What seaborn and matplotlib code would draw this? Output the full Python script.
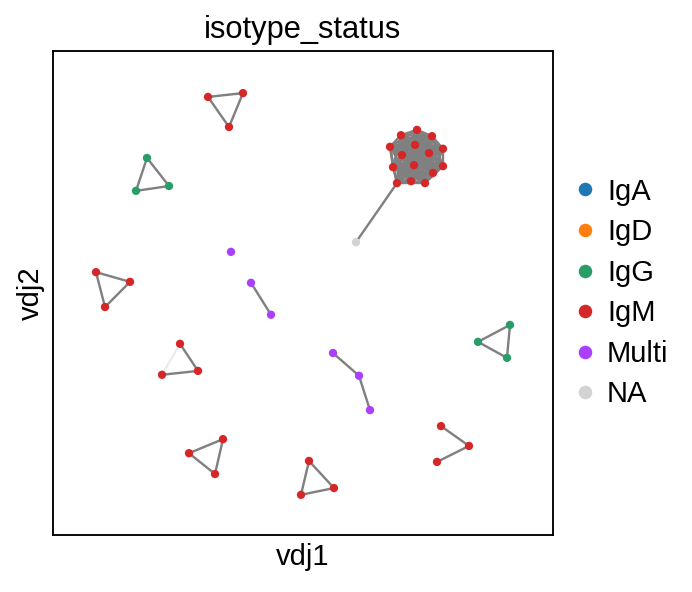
import seaborn as sns
import matplotlib.pyplot as plt
import pandas as pd
from matplotlib.collections import LineCollection

# node coordinates (vdj1, vdj2) and isotype status
vdj1 = [6.96, 7.28, 7.58, 6.74, 7.80, 7.24, 6.98, 7.52, 6.80, 7.22, 7.80, 7.60, 6.88, 7.16, 7.44,
        6.06,
        3.10, 3.80, 3.52,
        1.88, 2.32, 1.66,
        0.86, 1.54, 1.04,
        3.56,
        3.96, 4.36,
        2.54, 2.18, 2.90,
        5.60, 6.12, 6.34,
        9.14, 8.50, 9.08,
        3.40, 2.72, 3.24,
        5.12, 4.96, 5.62,
        7.76, 8.32, 7.68]
vdj2 = [8.26, 8.37, 8.24, 8.02, 7.98, 8.06, 7.85, 7.89, 7.60, 7.64, 7.62, 7.48, 7.27, 7.31, 7.27,
        6.05,
        9.05, 9.13, 8.43,
        7.79, 7.21, 7.11,
        5.43, 5.23, 4.71,
        5.85,
        5.21, 4.55,
        3.95, 3.31, 3.39,
        3.76, 3.29, 2.58,
        4.34, 3.99, 3.66,
        1.98, 1.69, 1.26,
        1.53, 0.83, 0.97,
        2.25, 1.84, 1.51]
isotype = ["IgM"] * 15 + ["NA"] + ["IgM"] * 3 + ["IgG"] * 3 + ["IgM"] * 3 + ["Multi"] * 3 + \
          ["IgM"] * 3 + ["Multi"] * 3 + ["IgG"] * 3 + ["IgM"] * 9

categories = ["IgA", "IgD", "IgG", "IgM", "Multi", "NA"]
colors = ["#1f77b4", "#ff7f0e", "#279e68", "#d62728", "#aa40fc", "#d3d3d3"]

# edges (node index pairs) with weights
cluster = list(range(15))
edges = [(a, b) for i, a in enumerate(cluster) for b in cluster[i + 1:]]
edges += [(15, 12),
          (16, 17), (17, 18), (18, 16),
          (19, 20), (20, 21), (21, 19),
          (22, 23), (23, 24), (24, 22),
          (26, 27),
          (28, 29), (29, 30), (30, 28),
          (31, 32), (32, 33),
          (34, 35), (35, 36), (36, 34),
          (37, 38), (38, 39), (39, 37),
          (40, 41), (41, 42), (42, 40),
          (43, 44), (44, 45)]
weights = [1.0] * len(edges)
weights[edges.index((28, 29))] = 0.15

df = pd.DataFrame({"vdj1": vdj1, "vdj2": vdj2, "isotype_status": isotype})

sns.set_style("white")
plt.rcParams["font.family"] = ["Liberation Sans", "DejaVu Sans"]
plt.rcParams["text.color"] = "black"
plt.rcParams["axes.labelcolor"] = "black"

fig = plt.figure(figsize=(692 / 150, 592 / 150), dpi=150)
ax = fig.add_axes([0.0766, 0.0963, 0.7225, 0.8176])

segs = [[(vdj1[a], vdj2[a]), (vdj1[b], vdj2[b])] for a, b in edges]
lc = LineCollection(segs, colors=[(0.5, 0.5, 0.5, w) for w in weights],
                    linewidths=1.15, zorder=1)
ax.add_collection(lc)

sns.scatterplot(data=df, x="vdj1", y="vdj2", hue="isotype_status",
                hue_order=categories, palette=dict(zip(categories, colors)),
                s=16, linewidth=0, ax=ax, zorder=2, legend=False)

handles = [plt.Line2D([], [], marker="o", ls="", color=c, markersize=6.5, markeredgewidth=0)
           for c in colors]
ax.legend(handles, categories, loc="center left", bbox_to_anchor=(1.0, 0.5),
          frameon=False, fontsize=14, handlelength=1.0, handletextpad=0.25,
          labelspacing=0.43, borderaxespad=0.2)

ax.set_xlim(0, 10)
ax.set_ylim(0, 10)
ax.set_xticks([])
ax.set_yticks([])
ax.set_xlabel("vdj1", fontsize=14)
ax.set_ylabel("vdj2", fontsize=14)
ax.set_title("isotype_status", fontsize=14.8)
for sp in ax.spines.values():
    sp.set_color("black")
    sp.set_linewidth(0.9)

fig.savefig("out.png", dpi=150)
